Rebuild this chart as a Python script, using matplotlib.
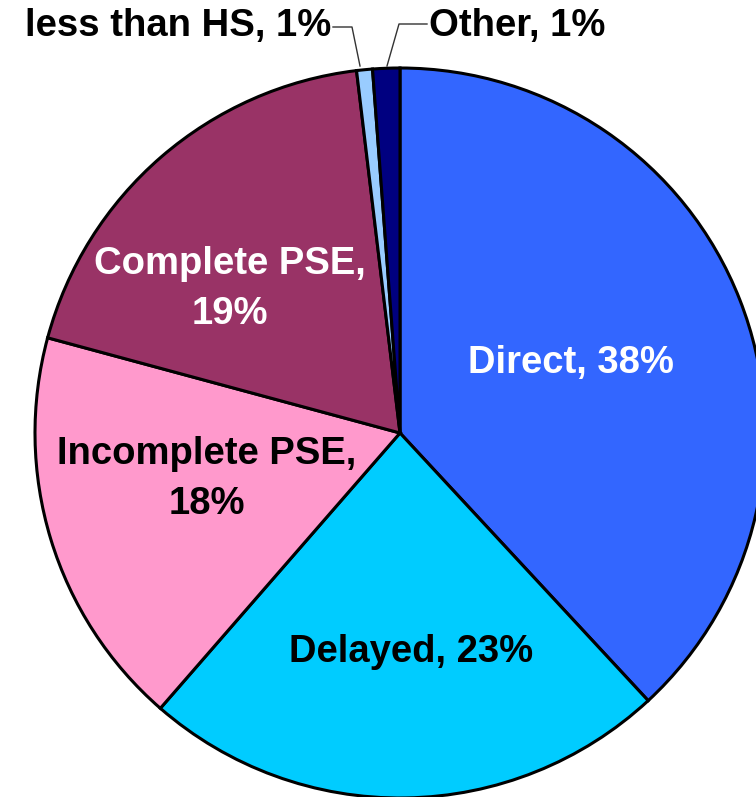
import matplotlib
matplotlib.use("Agg")
import matplotlib.pyplot as plt

# slice data, clockwise from 12 o'clock
labels = ["Direct", "Delayed", "Incomplete PSE", "Complete PSE", "less than HS", "Other"]
values = [38.1, 23.3, 17.8, 18.9, 0.7, 1.2]
shown = ["38%", "23%", "18%", "19%", "1%", "1%"]
colors = ["#3366FF", "#00CCFF", "#FF99CC", "#993366", "#99CCFF", "#000080"]

W, H = 756, 797
fig = plt.figure(figsize=(W / 100, H / 100), dpi=100)
ax = fig.add_axes([0, 0, 1, 1])

cx, cy, r = 400, H - 433, 365
ax.pie(values, colors=colors, startangle=90, counterclock=False,
       center=(cx, cy), radius=r, frame=True,
       wedgeprops=dict(edgecolor="black", linewidth=2.2))
ax.set_xlim(0, W)
ax.set_ylim(0, H)
ax.set_aspect("equal")
ax.axis("off")

font = dict(family=["Liberation Sans", "DejaVu Sans"], fontweight="bold", fontsize=27.5)

def put(x, y, s, color):
    ax.text(x, H - y, s, color=color, ha="center", va="center", linespacing=1.5, **font)

put(571, 363, f"{labels[0]}, {shown[0]}", "white")
put(411, 652, f"{labels[1]}, {shown[1]}", "black")
put(207, 479, f"{labels[2]},\n{shown[2]}", "black")
put(230, 289, f"{labels[3]},\n{shown[3]}", "white")

# outside labels with leader lines
ax.text(331, H - 26, f"{labels[4]}, {shown[4]}", ha="right", va="center", color="black", **font)
ax.text(429, H - 26, f"{labels[5]}, {shown[5]}", ha="left", va="center", color="black", **font)
ax.plot([333, 352, 360], [H - 27, H - 27, H - 66], color="#333333", lw=1.0)
ax.plot([427, 399, 387], [H - 24, H - 24, H - 66], color="#333333", lw=1.0)

fig.savefig("out.png", dpi=100)
